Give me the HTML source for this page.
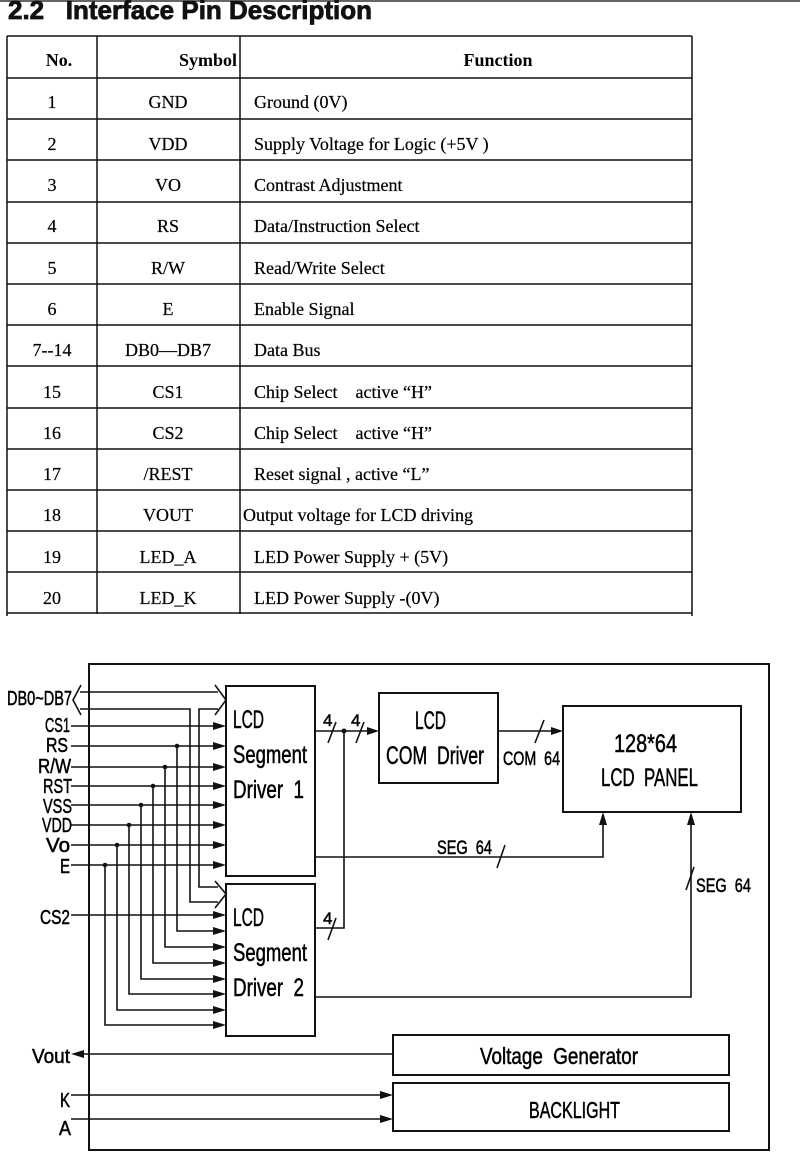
<!DOCTYPE html>
<html><head><meta charset="utf-8"><style>
html,body{margin:0;padding:0;background:#fff;}
svg{display:block;}
.t{font-family:"Liberation Serif",serif;font-size:18px;fill:#000;stroke:#000;stroke-width:0.2;}
.h{font-family:"Liberation Serif",serif;font-size:18px;font-weight:bold;fill:#000;}
.c{font-family:"Liberation Sans",sans-serif;fill:#000;stroke:#000;stroke-width:0.5;}
.ttl{font-family:"Liberation Sans",sans-serif;font-size:26px;font-weight:700;fill:#111;stroke:#111;stroke-width:0.8;}
</style></head><body>
<svg width="800" height="1166" viewBox="0 0 800 1166" xmlns="http://www.w3.org/2000/svg">
<line x1="0" y1="1" x2="800" y2="1" stroke="#333" stroke-width="1.5"/>
<text class="ttl" x="8" y="19" textLength="364" lengthAdjust="spacingAndGlyphs">2.2&#160;&#160;&#160;Interface Pin Description</text>
<g stroke="#111" stroke-width="1.5" fill="none">
<line x1="7" y1="36" x2="692" y2="36"/>
<line x1="7" y1="36" x2="7" y2="616"/>
<line x1="692" y1="36" x2="692" y2="616"/>
<line x1="97" y1="36" x2="97" y2="614"/>
<line x1="240" y1="36" x2="240" y2="614"/>
<line x1="7" y1="78" x2="692" y2="78"/><line x1="7" y1="119" x2="692" y2="119"/>
<line x1="7" y1="160" x2="692" y2="160"/><line x1="7" y1="202" x2="692" y2="202"/>
<line x1="7" y1="243" x2="692" y2="243"/><line x1="7" y1="284" x2="692" y2="284"/>
<line x1="7" y1="325" x2="692" y2="325"/><line x1="7" y1="366" x2="692" y2="366"/>
<line x1="7" y1="408" x2="692" y2="408"/><line x1="7" y1="449" x2="692" y2="449"/>
<line x1="7" y1="490" x2="692" y2="490"/><line x1="7" y1="531" x2="692" y2="531"/>
<line x1="7" y1="572" x2="692" y2="572"/><line x1="7" y1="613" x2="692" y2="613"/>
</g>
<text class="h" x="59" y="66" text-anchor="middle">No.</text>
<text class="h" x="237" y="66" text-anchor="end">Symbol</text>
<text class="h" x="498" y="66" text-anchor="middle">Function</text>
<g class="t">
<text x="52" y="108" text-anchor="middle">1</text><text x="168" y="108" text-anchor="middle">GND</text><text x="254" y="108">Ground (0V)</text>
<text x="52" y="150" text-anchor="middle">2</text><text x="168" y="150" text-anchor="middle">VDD</text><text x="254" y="150">Supply Voltage for Logic (+5V )</text>
<text x="52" y="191" text-anchor="middle">3</text><text x="168" y="191" text-anchor="middle">VO</text><text x="254" y="191">Contrast Adjustment</text>
<text x="52" y="232" text-anchor="middle">4</text><text x="168" y="232" text-anchor="middle">RS</text><text x="254" y="232">Data/Instruction Select</text>
<text x="52" y="274" text-anchor="middle">5</text><text x="168" y="274" text-anchor="middle">R/W</text><text x="254" y="274">Read/Write Select</text>
<text x="52" y="315" text-anchor="middle">6</text><text x="168" y="315" text-anchor="middle">E</text><text x="254" y="315">Enable Signal</text>
<text x="52" y="356" text-anchor="middle">7--14</text><text x="168" y="356" text-anchor="middle">DB0—DB7</text><text x="254" y="356">Data Bus</text>
<text x="52" y="398" text-anchor="middle">15</text><text x="168" y="398" text-anchor="middle">CS1</text><text x="254" y="398">Chip Select&#160;&#160;&#160;&#160;active “H”</text>
<text x="52" y="439" text-anchor="middle">16</text><text x="168" y="439" text-anchor="middle">CS2</text><text x="254" y="439">Chip Select&#160;&#160;&#160;&#160;active “H”</text>
<text x="52" y="480" text-anchor="middle">17</text><text x="168" y="480" text-anchor="middle">/REST</text><text x="254" y="480">Reset signal , active “L”</text>
<text x="52" y="521" text-anchor="middle">18</text><text x="168" y="521" text-anchor="middle">VOUT</text><text x="243" y="521">Output voltage for LCD driving</text>
<text x="52" y="563" text-anchor="middle">19</text><text x="168" y="563" text-anchor="middle">LED_A</text><text x="254" y="563">LED Power Supply + (5V)</text>
<text x="52" y="604" text-anchor="middle">20</text><text x="168" y="604" text-anchor="middle">LED_K</text><text x="254" y="604">LED Power Supply -(0V)</text>
</g>

<g stroke="#111" fill="none">
<rect x="89" y="664" width="680" height="486" stroke-width="2"/>
<rect x="226" y="686" width="89" height="190" stroke-width="2"/>
<rect x="226" y="884" width="89" height="152" stroke-width="2"/>
<rect x="379" y="693" width="119" height="90" stroke-width="2"/>
<rect x="563" y="706" width="178" height="106" stroke-width="2"/>
<rect x="393" y="1035" width="336" height="40" stroke-width="2"/>
<rect x="393" y="1083" width="336" height="48" stroke-width="2"/>
<g stroke-width="1.6">
<polyline points="80,692 218,692"/>
<polyline points="80,709 190,709 190,902 218,902"/>
<polyline points="218,709 199,709 199,887 218,887"/>
<polyline points="81,685 73,700 81,715"/>
<polyline points="215,685 226,700 215,715"/>
<polyline points="215,881 226,894 215,908"/>
<line x1="71" y1="726" x2="215" y2="726"/><line x1="71" y1="746" x2="215" y2="746"/>
<line x1="71" y1="767" x2="215" y2="767"/><line x1="71" y1="786" x2="215" y2="786"/>
<line x1="71" y1="805" x2="215" y2="805"/><line x1="71" y1="825" x2="215" y2="825"/>
<line x1="71" y1="845" x2="215" y2="845"/><line x1="71" y1="865" x2="215" y2="865"/>
<line x1="71" y1="915" x2="215" y2="915"/>
<polyline points="177,746 177,931 215,931"/>
<polyline points="165,767 165,947 215,947"/>
<polyline points="153,786 153,963 215,963"/>
<polyline points="141,805 141,979 215,979"/>
<polyline points="129,825 129,994 215,994"/>
<polyline points="117,845 117,1010 215,1010"/>
<polyline points="105,865 105,1025 215,1025"/>
<line x1="315" y1="731" x2="370" y2="731"/>
<polyline points="344,731 344,928 315,928"/>
<line x1="498" y1="731" x2="553" y2="731"/>
<polyline points="315,857 603,857 603,822"/>
<polyline points="315,997 691,997 691,822"/>
<line x1="83" y1="1054" x2="393" y2="1054"/>
<line x1="71" y1="1095" x2="382" y2="1095"/>
<line x1="71" y1="1119" x2="382" y2="1119"/>
<line x1="328" y1="743" x2="336" y2="722"/><line x1="356" y1="743" x2="364" y2="722"/>
<line x1="328" y1="940" x2="336" y2="918"/><line x1="535" y1="743" x2="544" y2="720"/>
<line x1="497" y1="868" x2="505" y2="845"/><line x1="686" y1="890" x2="694" y2="867"/>
</g>
</g>
<g fill="#111">
<circle cx="344" cy="731" r="2.5"/>
<circle cx="177" cy="746" r="2.3"/><circle cx="165" cy="767" r="2.3"/><circle cx="153" cy="786" r="2.3"/>
<circle cx="141" cy="805" r="2.3"/><circle cx="129" cy="825" r="2.3"/><circle cx="117" cy="845" r="2.3"/><circle cx="105" cy="865" r="2.3"/>
<polygon points="213,722 226,726 213,730"/><polygon points="213,742 226,746 213,750"/>
<polygon points="213,763 226,767 213,771"/><polygon points="213,782 226,786 213,790"/>
<polygon points="213,801 226,805 213,809"/><polygon points="213,821 226,825 213,829"/>
<polygon points="213,841 226,845 213,849"/><polygon points="213,861 226,865 213,869"/>
<polygon points="213,911 226,915 213,919"/><polygon points="213,927 226,931 213,935"/>
<polygon points="213,943 226,947 213,951"/><polygon points="213,959 226,963 213,967"/>
<polygon points="213,975 226,979 213,983"/><polygon points="213,990 226,994 213,998"/>
<polygon points="213,1006 226,1010 213,1014"/><polygon points="213,1021 226,1025 213,1029"/>
<polygon points="367,727 379,731 367,735"/><polygon points="551,727 563,731 551,735"/>
<polygon points="599,825 603,812 607,825"/><polygon points="687,825 691,812 695,825"/>
<polygon points="84,1050 71,1054 84,1058"/>
<polygon points="380,1091 393,1095 380,1099"/><polygon points="380,1115 393,1119 380,1123"/>
</g>
<g class="c" font-size="20">
<text x="72" y="705" text-anchor="end" textLength="65" lengthAdjust="spacingAndGlyphs">DB0~DB7</text>
<text x="70" y="732" text-anchor="end" textLength="25" lengthAdjust="spacingAndGlyphs">CS1</text>
<text x="68" y="752" text-anchor="end" textLength="22" lengthAdjust="spacingAndGlyphs">RS</text>
<text x="71" y="773" text-anchor="end" textLength="33" lengthAdjust="spacingAndGlyphs">R/W</text>
<text x="72" y="793" text-anchor="end" textLength="29" lengthAdjust="spacingAndGlyphs">RST</text>
<text x="72" y="813" text-anchor="end" textLength="29" lengthAdjust="spacingAndGlyphs">VSS</text>
<text x="72" y="832" text-anchor="end" textLength="30" lengthAdjust="spacingAndGlyphs">VDD</text>
<text x="70" y="852" text-anchor="end" textLength="24" lengthAdjust="spacingAndGlyphs">Vo</text>
<text x="70" y="873" text-anchor="end" textLength="10" lengthAdjust="spacingAndGlyphs">E</text>
<text x="70" y="924" text-anchor="end" textLength="30" lengthAdjust="spacingAndGlyphs">CS2</text>
<text x="70" y="1063" text-anchor="end" textLength="38" lengthAdjust="spacingAndGlyphs">Vout</text>
<text x="70" y="1107" text-anchor="end" textLength="10" lengthAdjust="spacingAndGlyphs">K</text>
<text x="71" y="1135" text-anchor="end" textLength="12" lengthAdjust="spacingAndGlyphs">A</text>
</g>
<g class="c" font-size="25">
<text x="233" y="728" textLength="31" lengthAdjust="spacingAndGlyphs">LCD</text>
<text x="233" y="763" textLength="74" lengthAdjust="spacingAndGlyphs">Segment</text>
<text x="233" y="798" textLength="71" lengthAdjust="spacingAndGlyphs">Driver&#160;&#160;1</text>
<text x="233" y="926" textLength="31" lengthAdjust="spacingAndGlyphs">LCD</text>
<text x="233" y="961" textLength="74" lengthAdjust="spacingAndGlyphs">Segment</text>
<text x="233" y="996" textLength="71" lengthAdjust="spacingAndGlyphs">Driver&#160;&#160;2</text>
<text x="415" y="729" textLength="31" lengthAdjust="spacingAndGlyphs">LCD</text>
<text x="386" y="764" textLength="98" lengthAdjust="spacingAndGlyphs">COM&#160;&#160;Driver</text>
<text x="614" y="752" textLength="63" lengthAdjust="spacingAndGlyphs">128*64</text>
<text x="601" y="786" textLength="97" lengthAdjust="spacingAndGlyphs">LCD&#160;&#160;PANEL</text>
<text x="480" y="1064" font-size="23" textLength="158" lengthAdjust="spacingAndGlyphs">Voltage&#160;&#160;Generator</text>
<text x="529" y="1118" font-size="23" textLength="91" lengthAdjust="spacingAndGlyphs">BACKLIGHT</text>
</g>
<g class="c" font-size="19">
<text x="503" y="765" textLength="57" lengthAdjust="spacingAndGlyphs">COM&#160;&#160;64</text>
<text x="437" y="854" textLength="55" lengthAdjust="spacingAndGlyphs">SEG&#160;&#160;64</text>
<text x="696" y="892" textLength="55" lengthAdjust="spacingAndGlyphs">SEG&#160;&#160;64</text>
<text x="323" y="726" font-size="17">4</text>
<text x="351" y="726" font-size="17">4</text>
<text x="323" y="924" font-size="17">4</text>
</g>
</svg>
</body></html>
